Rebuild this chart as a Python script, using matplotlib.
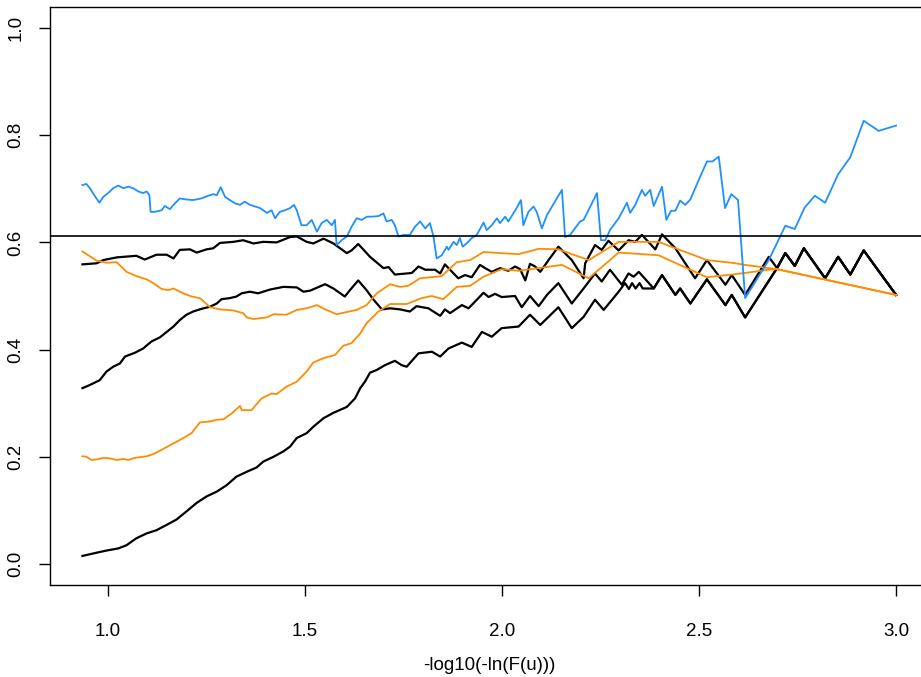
import matplotlib
matplotlib.use("Agg")
import matplotlib.pyplot as plt

plt.rcParams['font.family'] = ['Liberation Sans', 'DejaVu Sans']

# ---- data ----
blue_x = [0.935, 0.945, 0.954, 0.966, 0.978, 0.988, 1.000, 1.013, 1.026, 1.039, 1.051, 1.064, 1.077, 1.089,
          1.098, 1.105, 1.108, 1.119, 1.136, 1.144, 1.157, 1.170, 1.182, 1.199, 1.216, 1.237, 1.254, 1.267,
          1.276, 1.286, 1.297, 1.309, 1.322, 1.335, 1.347, 1.360, 1.373, 1.386, 1.403, 1.415, 1.424, 1.436,
          1.449, 1.462, 1.472, 1.479, 1.491, 1.504, 1.517, 1.530, 1.542, 1.555, 1.568, 1.576, 1.580, 1.593,
          1.606, 1.618, 1.631, 1.644, 1.657, 1.669, 1.686, 1.699, 1.707, 1.720, 1.728, 1.737, 1.750, 1.766,
          1.779, 1.792, 1.805, 1.817, 1.826, 1.834, 1.847, 1.860, 1.864, 1.877, 1.885, 1.893, 1.900, 1.910,
          1.923, 1.936, 1.953, 1.961, 1.974, 1.987, 1.995, 2.008, 2.016, 2.037, 2.048, 2.054, 2.067, 2.080,
          2.088, 2.101, 2.114, 2.152, 2.160, 2.173, 2.198, 2.207, 2.241, 2.251, 2.262, 2.274, 2.296, 2.317,
          2.325, 2.338, 2.355, 2.363, 2.376, 2.385, 2.406, 2.417, 2.429, 2.440, 2.452, 2.465, 2.478, 2.499,
          2.520, 2.534, 2.550, 2.566, 2.582, 2.599, 2.617, 2.677, 2.719, 2.743, 2.768, 2.794, 2.820, 2.853,
          2.884, 2.918, 2.956, 3.000]
blue_y = [0.707, 0.709, 0.701, 0.687, 0.674, 0.685, 0.692, 0.701, 0.706, 0.701, 0.704, 0.701, 0.695, 0.692,
          0.695, 0.688, 0.657, 0.657, 0.660, 0.668, 0.662, 0.673, 0.682, 0.680, 0.679, 0.682, 0.687, 0.690,
          0.688, 0.703, 0.685, 0.679, 0.673, 0.670, 0.676, 0.670, 0.667, 0.664, 0.655, 0.660, 0.645, 0.657,
          0.660, 0.664, 0.670, 0.660, 0.632, 0.632, 0.642, 0.620, 0.636, 0.642, 0.632, 0.642, 0.595, 0.604,
          0.611, 0.629, 0.645, 0.642, 0.648, 0.648, 0.649, 0.654, 0.639, 0.642, 0.632, 0.611, 0.614, 0.614,
          0.629, 0.639, 0.626, 0.636, 0.611, 0.570, 0.576, 0.592, 0.586, 0.601, 0.595, 0.608, 0.592, 0.598,
          0.608, 0.614, 0.637, 0.623, 0.632, 0.645, 0.636, 0.648, 0.639, 0.664, 0.679, 0.632, 0.657, 0.667,
          0.657, 0.626, 0.651, 0.698, 0.610, 0.614, 0.639, 0.642, 0.692, 0.604, 0.604, 0.623, 0.645, 0.674,
          0.655, 0.670, 0.698, 0.687, 0.698, 0.668, 0.704, 0.642, 0.659, 0.659, 0.678, 0.670, 0.680, 0.716,
          0.751, 0.751, 0.760, 0.664, 0.690, 0.679, 0.496, 0.567, 0.631, 0.625, 0.665, 0.687, 0.674, 0.727,
          0.759, 0.827, 0.808, 0.818]

orange_hi_x = [0.935, 0.971, 0.996, 1.022, 1.047, 1.072, 1.098, 1.115, 1.136, 1.153, 1.166, 1.191, 1.212,
               1.233, 1.259, 1.284, 1.318, 1.343, 1.352, 1.369, 1.403, 1.420, 1.453, 1.479, 1.504, 1.530,
               1.551, 1.580, 1.631, 1.656, 1.682, 1.716, 1.741, 1.762, 1.792, 1.847, 1.885, 1.919, 1.953,
               2.042, 2.093, 2.143, 2.220, 2.296, 2.397, 2.520, 2.583, 2.617, 2.698, 3.000]
orange_hi_y = [0.583, 0.566, 0.562, 0.563, 0.545, 0.537, 0.531, 0.524, 0.513, 0.511, 0.514, 0.505, 0.499,
               0.496, 0.479, 0.475, 0.473, 0.468, 0.460, 0.457, 0.460, 0.466, 0.465, 0.474, 0.477, 0.483,
               0.475, 0.466, 0.474, 0.483, 0.505, 0.522, 0.517, 0.519, 0.533, 0.537, 0.563, 0.567, 0.582,
               0.578, 0.588, 0.587, 0.567, 0.601, 0.601, 0.567, 0.562, 0.558, 0.550, 0.502]

orange_lo_x = [0.935, 0.945, 0.958, 0.971, 0.988, 1.005, 1.022, 1.039, 1.051, 1.068, 1.098, 1.115, 1.136,
               1.166, 1.191, 1.212, 1.233, 1.259, 1.276, 1.293, 1.314, 1.335, 1.339, 1.364, 1.390, 1.415,
               1.428, 1.453, 1.479, 1.504, 1.521, 1.547, 1.576, 1.597, 1.618, 1.640, 1.656, 1.686, 1.716,
               1.758, 1.796, 1.822, 1.851, 1.885, 1.919, 1.953, 1.999, 2.042, 2.093, 2.152, 2.220, 2.296,
               2.397, 2.520, 2.583, 2.617, 2.677, 2.698, 3.000]
orange_lo_y = [0.201, 0.200, 0.194, 0.195, 0.198, 0.197, 0.194, 0.196, 0.194, 0.198, 0.201, 0.205, 0.213,
               0.225, 0.235, 0.244, 0.264, 0.266, 0.269, 0.270, 0.281, 0.295, 0.287, 0.287, 0.309, 0.318,
               0.317, 0.331, 0.340, 0.359, 0.376, 0.384, 0.390, 0.407, 0.412, 0.430, 0.449, 0.471, 0.485,
               0.485, 0.496, 0.500, 0.494, 0.517, 0.519, 0.536, 0.550, 0.547, 0.552, 0.558, 0.533, 0.581,
               0.576, 0.535, 0.540, 0.543, 0.549, 0.550, 0.502]

black_top_x = [0.935, 0.971, 0.988, 1.022, 1.072, 1.093, 1.123, 1.149, 1.166, 1.182, 1.208, 1.225, 1.250,
               1.267, 1.284, 1.318, 1.343, 1.369, 1.394, 1.428, 1.462, 1.479, 1.504, 1.521, 1.547, 1.572,
               1.606, 1.618, 1.635, 1.665, 1.699, 1.712, 1.728, 1.758, 1.771, 1.788, 1.805, 1.830, 1.843,
               1.855, 1.868, 1.889, 1.906, 1.923, 1.944, 1.957, 1.974, 1.995, 2.016, 2.033, 2.046, 2.059,
               2.071, 2.084, 2.097, 2.118, 2.143, 2.177, 2.207, 2.211, 2.236, 2.253, 2.270, 2.296, 2.321,
               2.338, 2.355, 2.389, 2.406, 2.440, 2.465, 2.490, 2.520, 2.567, 2.583, 2.617, 2.677, 2.698,
               2.719, 2.743, 2.766, 2.820, 2.853, 2.884, 2.918, 3.000]
black_top_y = [0.559, 0.561, 0.567, 0.572, 0.575, 0.568, 0.577, 0.577, 0.570, 0.586, 0.587, 0.581, 0.587,
               0.589, 0.599, 0.601, 0.604, 0.598, 0.601, 0.600, 0.610, 0.611, 0.601, 0.598, 0.607, 0.598,
               0.580, 0.585, 0.597, 0.573, 0.552, 0.554, 0.540, 0.542, 0.543, 0.555, 0.549, 0.549, 0.542,
               0.559, 0.549, 0.533, 0.539, 0.535, 0.558, 0.552, 0.545, 0.552, 0.547, 0.555, 0.550, 0.529,
               0.560, 0.555, 0.545, 0.567, 0.592, 0.567, 0.533, 0.561, 0.595, 0.586, 0.603, 0.585, 0.604,
               0.601, 0.614, 0.587, 0.615, 0.589, 0.561, 0.533, 0.567, 0.521, 0.539, 0.502, 0.573, 0.552,
               0.580, 0.556, 0.589, 0.533, 0.573, 0.540, 0.585, 0.502]

black_mid_x = [0.935, 0.954, 0.979, 0.996, 1.013, 1.030, 1.043, 1.068, 1.089, 1.110, 1.132, 1.149, 1.166,
               1.182, 1.199, 1.216, 1.237, 1.259, 1.276, 1.288, 1.309, 1.326, 1.339, 1.360, 1.381, 1.411,
               1.445, 1.479, 1.496, 1.513, 1.551, 1.572, 1.601, 1.614, 1.635, 1.656, 1.674, 1.695, 1.716,
               1.741, 1.766, 1.783, 1.813, 1.843, 1.855, 1.868, 1.898, 1.915, 1.953, 1.966, 1.982, 1.999,
               2.033, 2.050, 2.071, 2.093, 2.114, 2.143, 2.177, 2.207, 2.236, 2.253, 2.274, 2.304, 2.321,
               2.334, 2.347, 2.385, 2.406, 2.440, 2.452, 2.478, 2.520, 2.567, 2.583, 2.617, 2.698, 2.719,
               2.743, 2.766, 2.820, 2.853, 2.884, 2.918, 3.000]
black_mid_y = [0.328, 0.334, 0.343, 0.359, 0.368, 0.374, 0.387, 0.394, 0.402, 0.415, 0.423, 0.433, 0.443,
               0.455, 0.465, 0.471, 0.476, 0.480, 0.486, 0.494, 0.496, 0.499, 0.505, 0.508, 0.505, 0.512,
               0.517, 0.516, 0.508, 0.510, 0.522, 0.514, 0.499, 0.511, 0.529, 0.511, 0.493, 0.475, 0.477,
               0.475, 0.471, 0.481, 0.477, 0.463, 0.475, 0.468, 0.483, 0.477, 0.506, 0.498, 0.504, 0.498,
               0.500, 0.479, 0.500, 0.481, 0.502, 0.524, 0.486, 0.514, 0.542, 0.527, 0.549, 0.521, 0.542,
               0.536, 0.545, 0.514, 0.539, 0.502, 0.514, 0.486, 0.531, 0.483, 0.502, 0.460, 0.552, 0.580,
               0.556, 0.589, 0.533, 0.573, 0.540, 0.585, 0.502]

black_low_x = [0.935, 0.971, 0.996, 1.026, 1.047, 1.072, 1.098, 1.123, 1.149, 1.174, 1.199, 1.225, 1.250,
               1.276, 1.301, 1.326, 1.352, 1.377, 1.394, 1.420, 1.445, 1.462, 1.479, 1.504, 1.521, 1.547,
               1.572, 1.606, 1.627, 1.640, 1.652, 1.665, 1.682, 1.703, 1.728, 1.745, 1.758, 1.788, 1.822,
               1.843, 1.864, 1.898, 1.923, 1.949, 1.974, 1.999, 2.042, 2.071, 2.097, 2.118, 2.143, 2.177,
               2.207, 2.236, 2.258, 2.296, 2.312, 2.322, 2.330, 2.339, 2.349, 2.357, 2.385, 2.406, 2.440,
               2.452, 2.478, 2.520, 2.567, 2.583, 2.617, 2.698, 2.719, 2.743, 2.766, 2.820, 2.853, 2.884,
               2.918, 3.000]
black_low_y = [0.015, 0.021, 0.025, 0.029, 0.035, 0.048, 0.057, 0.063, 0.073, 0.083, 0.098, 0.114, 0.126,
               0.135, 0.147, 0.163, 0.172, 0.180, 0.191, 0.200, 0.210, 0.219, 0.235, 0.244, 0.256, 0.272,
               0.282, 0.293, 0.309, 0.328, 0.340, 0.357, 0.362, 0.371, 0.379, 0.371, 0.368, 0.393, 0.396,
               0.387, 0.402, 0.413, 0.405, 0.433, 0.424, 0.440, 0.443, 0.465, 0.446, 0.461, 0.479, 0.440,
               0.461, 0.493, 0.474, 0.508, 0.524, 0.513, 0.524, 0.514, 0.524, 0.514, 0.514, 0.539, 0.502,
               0.514, 0.486, 0.531, 0.483, 0.502, 0.460, 0.552, 0.580, 0.556, 0.589, 0.533, 0.573, 0.540,
               0.585, 0.502]

ref_level = 0.612

x_ticks = [1.0, 1.5, 2.0, 2.5, 3.0]
x_tick_labels = ["1.0", "1.5", "2.0", "2.5", "3.0"]
y_ticks = [0.0, 0.2, 0.4, 0.6, 0.8, 1.0]
y_tick_labels = ["0.0", "0.2", "0.4", "0.6", "0.8", "1.0"]
x_label = "-log10(-ln(F(u)))"

# ---- drawing ----
fig = plt.figure(figsize=(9.21, 6.77), dpi=100)
ax = fig.add_axes([0.054, 0.1353, 0.9544, 0.855])

ax.plot(black_low_x, black_low_y, color="black", lw=1.6)
ax.plot(black_mid_x, black_mid_y, color="black", lw=1.6)
ax.plot(black_top_x, black_top_y, color="black", lw=1.6)
ax.plot(orange_lo_x, orange_lo_y, color="#FF8C00", lw=1.3)
ax.plot(orange_hi_x, orange_hi_y, color="#FF8C00", lw=1.3)
ax.plot(blue_x, blue_y, color="#1E90FF", lw=1.3)
ax.axhline(ref_level, color="black", lw=1.2)

ax.set_xlim(0.852, 3.083)
ax.set_ylim(-0.04, 1.04)
ax.set_xticks(x_ticks)
ax.set_xticklabels(x_tick_labels)
ax.set_yticks(y_ticks)
ax.set_yticklabels(y_tick_labels, rotation=90, va="center")
ax.tick_params(axis="both", length=8, width=1.0, labelsize=13.5, color="black")
ax.tick_params(axis="x", pad=19)
ax.tick_params(axis="y", pad=10)
ax.set_xlabel(x_label, fontsize=13.5, labelpad=12)
for s in ax.spines.values():
    s.set_linewidth(1.0)

fig.savefig("out.png", dpi=100)
